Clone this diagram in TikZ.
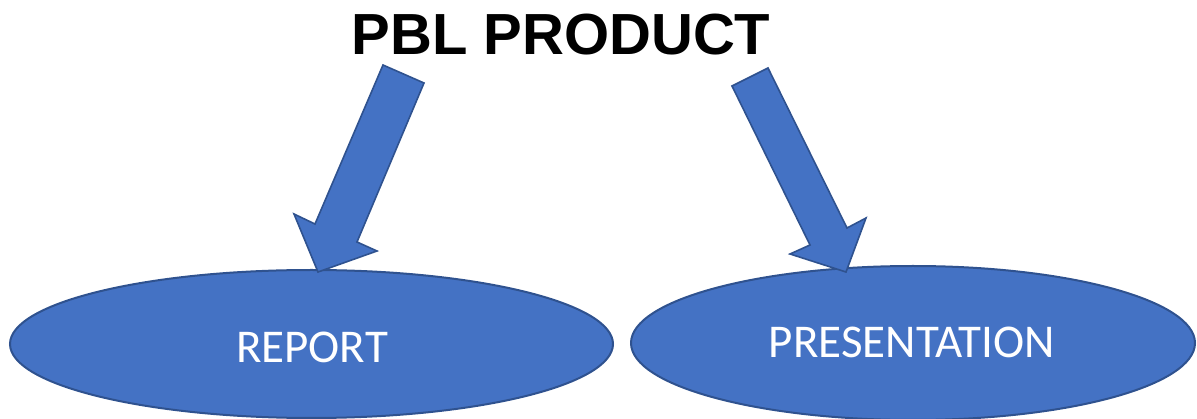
\documentclass[tikz,border=0pt]{standalone}
\usepackage{fontspec}
\newfontfamily\titlefont{Liberation Sans}
\newfontfamily\labelfont{Carlito}
\usetikzlibrary{shapes.geometric}
\definecolor{blockfill}{HTML}{4472C4}
\definecolor{blockedge}{HTML}{2F528F}
\tikzset{
  blob/.style={ellipse, fill=blockfill, draw=blockedge, line width=2pt, inner sep=0pt},
  blockarrow/.style={fill=blockfill, draw=blockedge, line width=1.6pt, line join=miter},
  lbl/.style={text=white, font=\labelfont\fontsize{47}{56}\selectfont, anchor=base, inner sep=0pt},
  heading/.style={font=\titlefont\bfseries\fontsize{58}{66}\selectfont, anchor=base, inner sep=0pt},
}
\begin{document}
\begin{tikzpicture}[x=1pt,y=-1pt]
\useasboundingbox (0,0) rectangle (1197,419);
\node[heading] (title) at (561,55) {PBL PRODUCT};
\node[blob, minimum width=603pt, minimum height=148pt] (report) at (311.5,344) {};
\node[blob, minimum width=564pt, minimum height=154pt] (pres) at (913,343) {};
\node[lbl] (reporttxt) at (312,363) {REPORT};
\node[lbl] (prestxt) at (912,358) {PRESENTATION};
% left block arrow
\draw[blockarrow] (383,65) -- (424,83) -- (357,242) -- (377,251) -- (318,272) -- (294,214) -- (315,224) -- cycle;
% right block arrow
\draw[blockarrow] (732,86) -- (768,68) -- (847,228) -- (866,218) -- (846,272) -- (790,254) -- (810,245) -- cycle;
\end{tikzpicture}
\end{document}
